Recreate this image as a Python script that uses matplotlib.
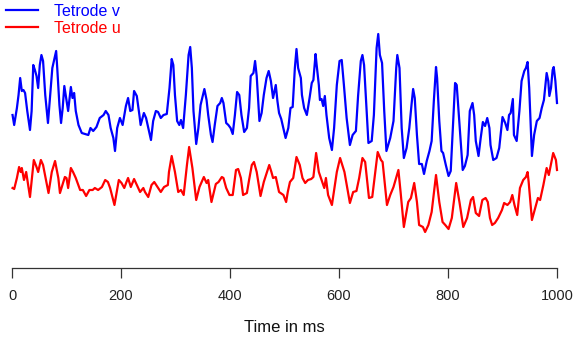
import matplotlib
matplotlib.use("Agg")
import matplotlib.pyplot as plt

# Time axis (ms) and signal values (arbitrary units) for tetrode v (blue)
t_v = [1,4,9,12,15,18,21,24,28,33,
       36,39,42,45,48,51,54,57,61,66,
       70,74,78,81,83,87,90,93,96,100,
       103,108,111,114,117,122,128,134,140,144,
       149,155,161,168,172,177,181,186,189,193,
       198,203,209,213,217,221,224,229,234,236,
       242,246,250,255,259,264,268,273,278,284,
       289,293,296,299,303,307,310,314,319,324,
       327,330,333,338,342,346,353,357,360,365,
       368,372,377,382,385,388,393,397,401,405,
       409,413,417,421,426,431,435,438,443,446,
       449,454,458,462,467,471,475,479,484,487,
       490,494,502,507,511,515,519,522,525,530,
       532,536,541,546,550,553,557,559,563,565,
       568,571,574,577,582,587,591,596,601,605,
       609,614,620,625,631,635,640,643,646,650,
       654,660,664,669,672,675,679,683,687,694,
       700,705,707,711,715,719,724,729,733,736,
       739,743,747,752,756,761,766,770,774,778,
       780,784,788,791,796,801,805,810,813,816,
       819,823,827,831,836,840,845,848,851,856,
       860,864,868,872,876,878,883,889,894,900,
       905,909,912,915,919,921,926,931,935,940,
       943,946,949,954,958,963,968,972,976,981,
       984,986,989,992,994,997,1000]
v = [153,143,160,173,190,177,178,175,157,138,
     157,203,198,192,180,203,213,207,173,145,
     173,200,210,217,200,163,145,160,182,168,
     157,181,170,175,157,143,135,134,133,140,
     137,141,150,153,157,153,140,130,117,140,
     150,143,162,170,157,158,177,172,152,143,
     155,150,140,128,147,157,156,150,153,154,
     180,209,203,173,147,143,148,140,173,213,
     221,200,157,124,140,163,179,168,153,133,
     126,143,162,165,170,165,145,143,140,134,
     153,176,173,153,136,140,160,192,195,207,
     192,147,155,173,190,197,187,170,183,167,
     155,149,130,140,160,161,200,219,200,190,
     173,160,153,170,185,188,214,203,183,168,
     169,162,172,153,130,118,140,183,207,208,
     183,150,123,133,137,172,207,213,203,163,
     125,127,153,220,234,213,205,157,117,130,
     147,200,213,200,140,110,120,140,163,179,
     170,133,104,104,94,107,117,127,167,201,
     190,147,117,115,103,92,97,153,185,183,
     160,130,98,102,113,157,165,153,127,112,
     130,146,142,150,140,123,108,110,120,151,
     145,138,153,155,169,133,127,157,187,197,
     200,206,180,112,133,147,150,160,168,195,
     187,172,180,198,201,187,165]

# Time axis (ms) and signal values for tetrode u (red)
t_u = [1,4,9,13,16,18,22,26,33,40,
       45,48,53,57,67,73,79,85,88,97,
       100,103,108,112,117,125,130,136,142,148,
       152,158,165,171,176,180,188,196,201,206,
       210,213,218,224,229,235,241,244,250,256,
       261,267,273,279,286,288,293,299,305,310,
       315,321,325,331,338,344,352,357,360,366,
       374,379,385,388,393,399,405,411,415,420,
       424,431,435,440,444,449,456,462,472,476,
       479,484,490,498,503,506,510,516,522,528,
       533,538,543,549,553,558,563,568,573,576,
       580,587,596,602,610,620,626,632,637,643,
       648,655,661,671,677,680,688,694,700,709,
       713,719,727,732,738,743,747,754,758,764,
       770,778,784,790,795,801,807,815,821,828,
       835,842,846,851,857,863,869,873,877,881,
       886,892,899,903,909,914,918,922,927,932,
       938,943,946,948,954,960,965,969,975,981,
       985,993,998,1000]
u = [80,79,90,101,96,100,88,96,71,108,
     101,96,108,103,75,96,107,90,75,91,
     90,80,100,96,90,78,78,72,78,78,
     80,78,81,88,86,80,63,88,85,80,
     86,90,81,89,83,76,80,76,71,83,
     86,81,76,81,83,96,112,96,76,78,
     73,103,121,100,68,81,91,85,88,66,
     84,86,91,90,80,73,73,98,99,90,
     73,75,88,103,106,96,72,86,103,96,
     90,91,76,73,66,76,86,90,111,103,
     90,85,88,89,91,115,96,88,80,90,
     73,63,96,110,96,65,76,77,90,110,
     106,70,71,116,108,106,63,73,81,98,
     76,41,66,70,85,66,43,41,36,43,
     56,93,66,46,43,39,50,85,66,41,
     50,68,71,55,52,68,70,66,50,43,
     45,50,58,65,63,66,73,63,53,80,
     88,91,96,86,48,60,70,68,83,100,
     93,115,108,98]

x_ticks = [0, 200, 400, 600, 800, 1000]
series_labels = ["Tetrode v", "Tetrode u"]

W, H = 575, 342
fig = plt.figure(figsize=(W / 100, H / 100), dpi=100)
ax = fig.add_axes([12 / W, 1 - 268 / H, 545 / W, 268 / H])

ax.plot(t_v, v, color="#0000FF", lw=1.6, label=series_labels[0], clip_on=False,
        solid_joinstyle="round")
ax.plot(t_u, u, color="#FF0000", lw=1.6, label=series_labels[1], clip_on=False,
        solid_joinstyle="round")

ax.set_xlim(0, 1000)
ax.set_ylim(0, 268)
for s in ("top", "left", "right"):
    ax.spines[s].set_visible(False)
ax.spines["bottom"].set_color("#333333")
ax.spines["bottom"].set_linewidth(0.9)
ax.set_yticks([])
ax.set_xticks(x_ticks)
ax.set_xticklabels([str(x) for x in x_ticks], fontfamily="Liberation Sans",
                   fontsize=10.5, color="#222222")
ax.tick_params(axis="x", direction="out", length=7, width=0.9, color="#333333", pad=8)
ax.set_xlabel("Time in ms", fontfamily="Liberation Sans", fontsize=12,
              color="#111111", labelpad=12)

leg = ax.legend(loc="upper left", bbox_to_anchor=(6 / W, 1 - 3.8 / H),
                bbox_transform=fig.transFigure, frameon=False, borderpad=0,
                borderaxespad=0, handlelength=2.0, handletextpad=1.0,
                labelspacing=0.11, labelcolor="linecolor",
                prop={"family": "Liberation Sans", "size": 11.5})

fig.savefig("out.png", dpi=100)
